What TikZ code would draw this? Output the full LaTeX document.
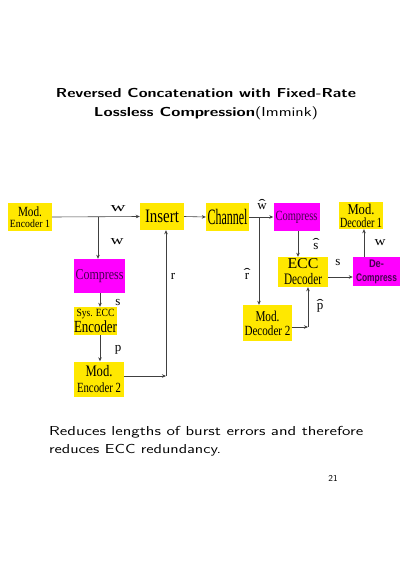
\documentclass[tikz,border=0pt]{standalone}
\usepackage{fontspec}
\usepackage{graphicx}
\usetikzlibrary{arrows.meta}
\newfontfamily\tms{Liberation Serif}
\newfontfamily\ars{Liberation Sans}
\definecolor{boxyellow}{RGB}{255,232,0}
\definecolor{boxmagenta}{RGB}{255,0,255}
\definecolor{magtext}{RGB}{70,0,80}
\newcommand\fitline[3]{\resizebox{#2pt}{\height}{\fontsize{#1}{#1}\selectfont #3}}
\newcommand\hatlbl[1]{\vbox{\offinterlineskip\halign{\hfil##\hfil\cr\resizebox{7pt}{\height}{\char"02C6}\cr\noalign{\vskip-5pt}#1\cr}}}
\tikzset{
  ybox/.style={fill=boxyellow, draw=none, inner sep=0pt, align=center, font=\tms},
  mbox/.style={fill=boxmagenta, draw=none, inner sep=0pt, align=center, font=\tms, text=magtext},
  conn/.style={draw=black!75, line width=0.6pt},
  arr/.style={conn, -{Stealth[length=4pt,width=3.5pt]}},
  lbl/.style={inner sep=0pt, font=\tms\fontsize{13}{13}\selectfont}
}
\begin{document}
\begin{tikzpicture}[x=1pt,y=-1pt]
\useasboundingbox (0,0) rectangle (400,565);
% title
\node[inner sep=0pt, anchor=base] (t1) at (206,97) {\resizebox{300pt}{\height}{\fontsize{13}{13}\selectfont\sffamily\bfseries Reversed Concatenation with Fixed-Rate}};
\node[inner sep=0pt, anchor=base] (t2) at (206,116) {\resizebox{224pt}{\height}{\fontsize{13}{13}\selectfont\sffamily{\bfseries Lossless Compression}(Immink)}};
% boxes
\node[ybox, minimum width=44pt, minimum height=28pt, font=\tms\fontsize{11}{11}\selectfont] (me1) at (30,217) {\fitline{14}{24}{Mod.}\\\fitline{11}{40}{Encoder 1}};
\node[ybox, minimum width=44pt, minimum height=27pt] (ins) at (162,216.5) {\fitline{19}{34}{Insert}};
\node[ybox, minimum width=43pt, minimum height=28pt] (chan) at (227.5,217) {\fitline{22}{40}{Channel}};
\node[mbox, minimum width=46pt, minimum height=28pt] (comp2) at (296.5,217) {\fitline{14}{42}{Compress}};
\node[ybox, minimum width=44pt, minimum height=27pt, font=\tms\fontsize{13}{13}\selectfont] (md1) at (361,215.5) {\fitline{15}{27}{Mod.}\\\fitline{14}{42}{Decoder 1}};
\node[mbox, minimum width=51pt, minimum height=34pt] (comp1) at (99.5,276) {\fitline{15}{48}{Compress}};
\node[ybox, minimum width=43pt, minimum height=28pt, font=\tms\fontsize{14}{14}\selectfont] (sys) at (95.5,321) {\fitline{11}{38}{Sys. ECC}\\\fitline{17}{43}{Encoder}};
\node[ybox, minimum width=50pt, minimum height=35pt, font=\tms\fontsize{16}{16}\selectfont] (me2) at (99,379) {\fitline{16}{27}{Mod.}\\\fitline{14}{44}{Encoder 2}};
\node[ybox, minimum width=50pt, minimum height=30pt, font=\tms\fontsize{16}{16}\selectfont] (eccd) at (303,272) {\fitline{15}{31}{ECC}\\\fitline{16}{38}{Decoder}};
\node[mbox, minimum width=47pt, minimum height=29pt, font=\ars\bfseries\fontsize{14}{14}\selectfont] (decomp) at (376.5,271.5) {\fitline{11}{15}{De-}\\\fitline{11}{41}{Compress}};
\node[ybox, minimum width=49pt, minimum height=36pt, font=\tms\fontsize{14}{14}\selectfont] (md2) at (267.5,323) {\fitline{15}{24}{Mod.}\\\fitline{14}{46}{Decoder 2}};
% junctions
\coordinate (b1) at (98,217);
\coordinate (b2) at (259,217);
\coordinate (c1) at (166,376);
\coordinate (c2) at (308,327);
% connectors
\draw[arr] (me1.east) -- (ins.west);
\draw[arr] (b1) -- (b1 |- comp1.north);
\draw[arr] (ins.east) -- (chan.west);
\draw[arr] (chan.east) -- (comp2.west);
\draw[arr] (b2) -- (b2 |- md2.north);
\draw[arr] (comp2.south -| 298,0) -- (eccd.north -| 298,0);
\draw[arr] (eccd.east |- 0,277) -- (decomp.west |- 0,277);
\draw[arr] (decomp.north -| 364,0) -- (md1.south -| 364,0);
\draw[arr] (comp1.south -| 100,0) -- (sys.north -| 100,0);
\draw[arr] (sys.south -| 100,0) -- (me2.north -| 100,0);
\draw[arr] (me2.east |- c1) -- (c1);
\draw[arr] (c1) -- (c1 |- ins.south);
\draw[arr] (md2.east |- c2) -- (c2);
\draw[arr] (c2) -- (c2 |- eccd.south);
% labels
\node[lbl] (lw1) at (118,209) {\resizebox{15pt}{\height}{w}};
\node[lbl] (lw2) at (117,242) {\resizebox{13pt}{\height}{w}};
\node[lbl] (lr) at (173,276) {r};
\node[lbl] (ls1) at (118,302) {s};
\node[lbl] (lp) at (118,350) {p};
\node[lbl] (lwh) at (262,205) {\hatlbl{w}};
\node[lbl] (lrh) at (247,274) {\hatlbl{r}};
\node[lbl] (lsh) at (316,244) {\hatlbl{s}};
\node[lbl] (ls2) at (338,262) {s};
\node[lbl] (lph) at (320,306) {\hatlbl{p}};
\node[lbl] (lw3) at (380,243) {\resizebox{11pt}{\height}{w}};
% body text
\node[inner sep=0pt, anchor=base west] (bt1) at (49,435) {\resizebox{314pt}{\height}{\fontsize{13}{13}\selectfont\sffamily Reduces lengths of burst errors and therefore}};
\node[inner sep=0pt, anchor=base west] (bt2) at (49,453) {\resizebox{172pt}{\height}{\fontsize{13}{13}\selectfont\sffamily reduces ECC redundancy.}};
\node[inner sep=0pt, anchor=base] (pg) at (333,481) {\fontsize{9}{9}\selectfont\sffamily 21};
\end{tikzpicture}
\end{document}
